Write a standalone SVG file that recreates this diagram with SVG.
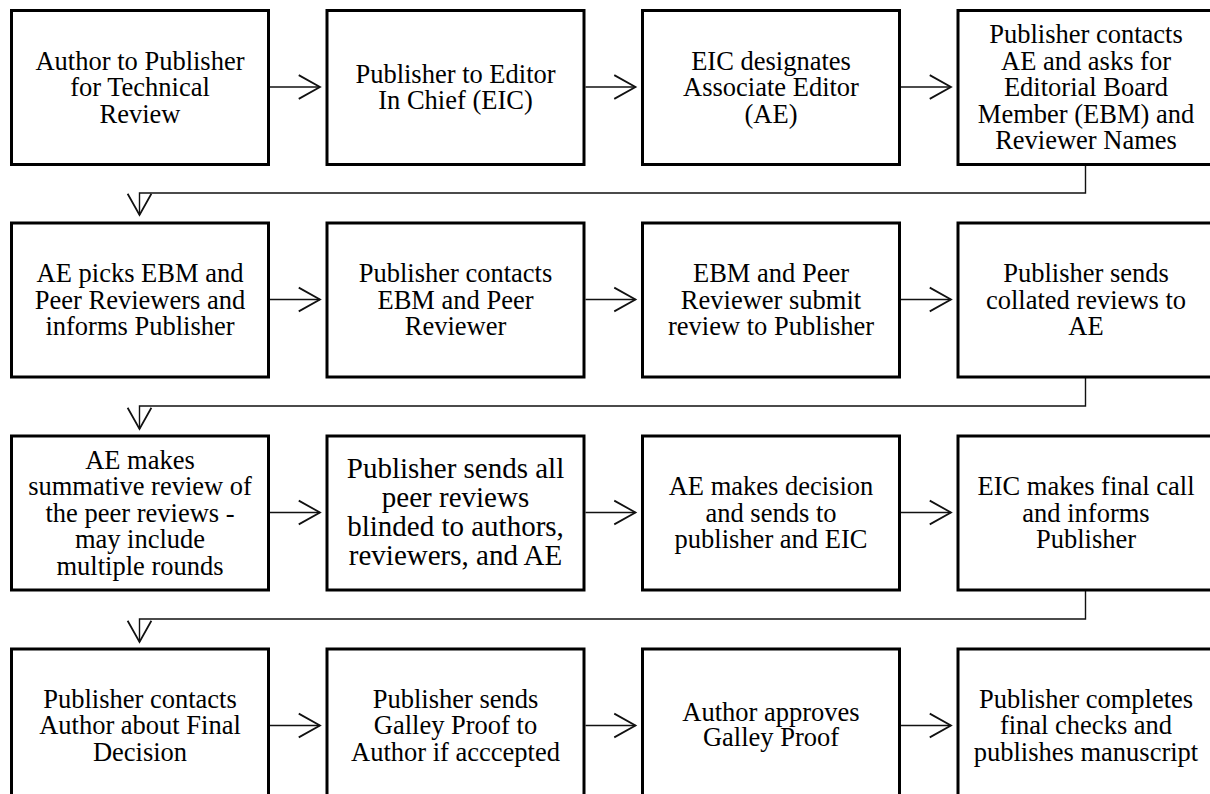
<svg xmlns="http://www.w3.org/2000/svg" width="1210" height="794" viewBox="0 0 1210 794">
<style>
.box{fill:#fff;stroke:#000;stroke-width:3}
.t{font-family:'Liberation Serif','Times New Roman',serif;font-size:26.5px;fill:#000;text-anchor:middle}
.big{font-size:29px}
.c{fill:none;stroke:#111;stroke-width:1.4}
</style>
<defs>
<marker id="a" markerUnits="userSpaceOnUse" markerWidth="30" markerHeight="30" viewBox="-20 -12 22 24" refX="0" refY="0" orient="auto">
<path d="M-17,-9.5 L0,0 L-17,9.5" fill="none" stroke="#111" stroke-width="1.4"/>
</marker>
</defs>
<rect width="1210" height="794" fill="#fff"/>
<g id="connectors">
<line class="c" x1="270" y1="87" x2="320" y2="87" marker-end="url(#a)"/>
<line class="c" x1="585.5" y1="87" x2="635.5" y2="87" marker-end="url(#a)"/>
<line class="c" x1="901" y1="87" x2="951" y2="87" marker-end="url(#a)"/>
<path class="c" d="M1085.5,165 V193 H139.5 V215" marker-end="url(#a)"/>
<line class="c" x1="270" y1="299.5" x2="320" y2="299.5" marker-end="url(#a)"/>
<line class="c" x1="585.5" y1="299.5" x2="635.5" y2="299.5" marker-end="url(#a)"/>
<line class="c" x1="901" y1="299.5" x2="951" y2="299.5" marker-end="url(#a)"/>
<path class="c" d="M1085.5,378 V406 H139.5 V429" marker-end="url(#a)"/>
<line class="c" x1="270" y1="512.5" x2="320" y2="512.5" marker-end="url(#a)"/>
<line class="c" x1="585.5" y1="512.5" x2="635.5" y2="512.5" marker-end="url(#a)"/>
<line class="c" x1="901" y1="512.5" x2="951" y2="512.5" marker-end="url(#a)"/>
<path class="c" d="M1085.5,591 V619 H139.5 V642" marker-end="url(#a)"/>
<line class="c" x1="270" y1="725.5" x2="320" y2="725.5" marker-end="url(#a)"/>
<line class="c" x1="585.5" y1="725.5" x2="635.5" y2="725.5" marker-end="url(#a)"/>
<line class="c" x1="901" y1="725.5" x2="951" y2="725.5" marker-end="url(#a)"/>
</g>
<g id="n1"><rect class="box" x="11.5" y="10.5" width="257" height="154"/>
<text class="t" x="140" y="69.5"><tspan x="140">Author to Publisher</tspan><tspan x="140" dy="26.5">for Technical</tspan><tspan x="140" dy="26.5">Review</tspan></text></g>
<g id="n2"><rect class="box" x="327" y="10.5" width="257" height="154"/>
<text class="t" x="455.5" y="82.75"><tspan x="455.5">Publisher to Editor</tspan><tspan x="455.5" dy="26.5">In Chief (EIC)</tspan></text></g>
<g id="n3"><rect class="box" x="642.5" y="10.5" width="257" height="154"/>
<text class="t" x="771" y="69.5"><tspan x="771">EIC designates</tspan><tspan x="771" dy="26.5">Associate Editor</tspan><tspan x="771" dy="26.5">(AE)</tspan></text></g>
<g id="n4"><rect class="box" x="958" y="10.5" width="257" height="154"/>
<text class="t" x="1086" y="43"><tspan x="1086">Publisher contacts</tspan><tspan x="1086" dy="26.5">AE and asks for</tspan><tspan x="1086" dy="26.5">Editorial Board</tspan><tspan x="1086" dy="26.5">Member (EBM) and</tspan><tspan x="1086" dy="26.5">Reviewer Names</tspan></text></g>

<g id="n5"><rect class="box" x="11.5" y="223" width="257" height="154"/>
<text class="t" x="140" y="282"><tspan x="140">AE picks EBM and</tspan><tspan x="140" dy="26.5">Peer Reviewers and</tspan><tspan x="140" dy="26.5">informs Publisher</tspan></text></g>
<g id="n6"><rect class="box" x="327" y="223" width="257" height="154"/>
<text class="t" x="455.5" y="282"><tspan x="455.5">Publisher contacts</tspan><tspan x="455.5" dy="26.5">EBM and Peer</tspan><tspan x="455.5" dy="26.5">Reviewer</tspan></text></g>
<g id="n7"><rect class="box" x="642.5" y="223" width="257" height="154"/>
<text class="t" x="771" y="282"><tspan x="771">EBM and Peer</tspan><tspan x="771" dy="26.5">Reviewer submit</tspan><tspan x="771" dy="26.5">review to Publisher</tspan></text></g>
<g id="n8"><rect class="box" x="958" y="223" width="257" height="154"/>
<text class="t" x="1086" y="282"><tspan x="1086">Publisher sends</tspan><tspan x="1086" dy="26.5">collated reviews to</tspan><tspan x="1086" dy="26.5">AE</tspan></text></g>

<g id="n9"><rect class="box" x="11.5" y="436" width="257" height="154"/>
<text class="t" x="140" y="468.5"><tspan x="140">AE makes</tspan><tspan x="140" dy="26.5">summative review of</tspan><tspan x="140" dy="26.5">the peer reviews -</tspan><tspan x="140" dy="26.5">may include</tspan><tspan x="140" dy="26.5">multiple rounds</tspan></text></g>
<g id="n10"><rect class="box" x="327" y="436" width="257" height="154"/>
<text class="t big" x="455.5" y="478"><tspan x="455.5">Publisher sends all</tspan><tspan x="455.5" dy="29">peer reviews</tspan><tspan x="455.5" dy="29">blinded to authors,</tspan><tspan x="455.5" dy="29">reviewers, and AE</tspan></text></g>
<g id="n11"><rect class="box" x="642.5" y="436" width="257" height="154"/>
<text class="t" x="771" y="495"><tspan x="771">AE makes decision</tspan><tspan x="771" dy="26.5">and sends to</tspan><tspan x="771" dy="26.5">publisher and EIC</tspan></text></g>
<g id="n12"><rect class="box" x="958" y="436" width="257" height="154"/>
<text class="t" x="1086" y="495"><tspan x="1086">EIC makes final call</tspan><tspan x="1086" dy="26.5">and informs</tspan><tspan x="1086" dy="26.5">Publisher</tspan></text></g>

<g id="n13"><rect class="box" x="11.5" y="649" width="257" height="160"/>
<text class="t" x="140" y="707.5"><tspan x="140">Publisher contacts</tspan><tspan x="140" dy="26.5">Author about Final</tspan><tspan x="140" dy="26.5">Decision</tspan></text></g>
<g id="n14"><rect class="box" x="327" y="649" width="257" height="160"/>
<text class="t" x="455.5" y="707.5"><tspan x="455.5">Publisher sends</tspan><tspan x="455.5" dy="26.5">Galley Proof to</tspan><tspan x="455.5" dy="26.5">Author if acccepted</tspan></text></g>
<g id="n15"><rect class="box" x="642.5" y="649" width="257" height="160"/>
<text class="t" x="771" y="721"><tspan x="771">Author approves</tspan><tspan x="771" dy="25">Galley Proof</tspan></text></g>
<g id="n16"><rect class="box" x="958" y="649" width="257" height="160"/>
<text class="t" x="1086" y="707.5"><tspan x="1086">Publisher completes</tspan><tspan x="1086" dy="26.5">final checks and</tspan><tspan x="1086" dy="26.5">publishes manuscript</tspan></text></g>
</svg>
